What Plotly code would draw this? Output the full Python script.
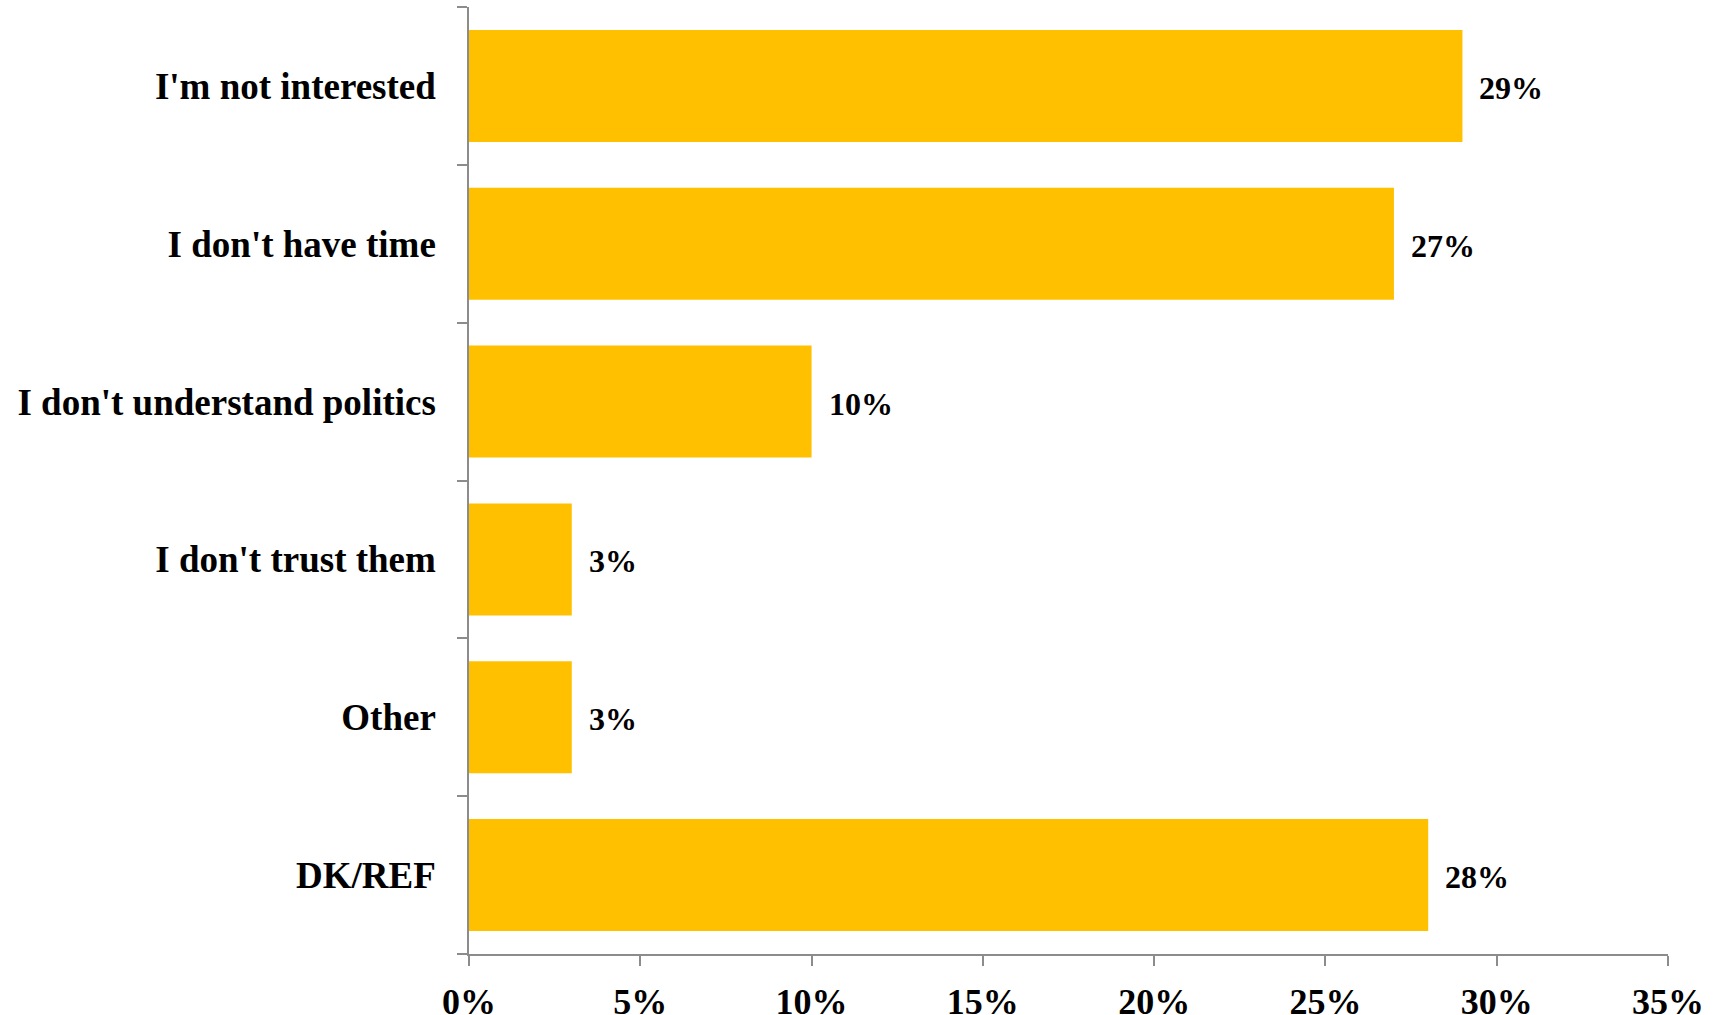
import plotly.graph_objects as go

categories = ["I'm not interested", "I don't have time", "I don't understand politics",
              "I don't trust them", "Other", "DK/REF"]
values = [29, 27, 10, 3, 3, 28]
x_ticks = [0, 5, 10, 15, 20, 25, 30, 35]
x_tick_labels = [f"{t}%" for t in x_ticks]

FONT = "Liberation Serif, Times New Roman, serif"
AXIS_COLOR = "#8c8c8c"

fig = go.Figure(go.Bar(
    x=values, y=categories, orientation="h",
    marker=dict(color="#FFC000", line=dict(width=0)),
    hoverinfo="skip",
))

for c, v in zip(categories, values):
    fig.add_annotation(x=v, y=c, text=f"<b>{v}%</b>", showarrow=False,
                       xanchor="left", xshift=15, yshift=-2,
                       font=dict(family=FONT, size=32, color="black"))

fig.update_layout(
    width=1723, height=1015,
    margin=dict(l=469, r=55, t=7, b=61, autoexpand=False),
    paper_bgcolor="white", plot_bgcolor="white",
    bargap=0.29, showlegend=False,
    font=dict(family=FONT, color="black"),
)
fig.update_xaxes(
    range=[0, 35], tickvals=x_ticks, ticktext=[f"<b>{t}</b>" for t in x_tick_labels],
    showgrid=False, zeroline=False,
    showline=True, linecolor=AXIS_COLOR, linewidth=1.5,
    ticks="outside", ticklen=10, tickcolor=AXIS_COLOR, tickwidth=1.5,
    tickfont=dict(family=FONT, size=36, color="black"),
    ticklabelstandoff=5,
)
fig.update_yaxes(
    categoryorder="array", categoryarray=categories, autorange="reversed",
    tickvals=categories, ticktext=[f"<b>{c}</b>" for c in categories],
    showgrid=False, zeroline=False,
    showline=True, linecolor=AXIS_COLOR, linewidth=1.5,
    ticks="outside", ticklen=10, tickcolor=AXIS_COLOR, tickwidth=1.5,
    tickson="boundaries",
    tickfont=dict(family=FONT, size=37, color="black"),
    ticklabelstandoff=24,
)

fig.write_html("out.html", config={"displayModeBar": False},
               post_script="document.body.style.margin='0';document.body.style.overflow='hidden';")
